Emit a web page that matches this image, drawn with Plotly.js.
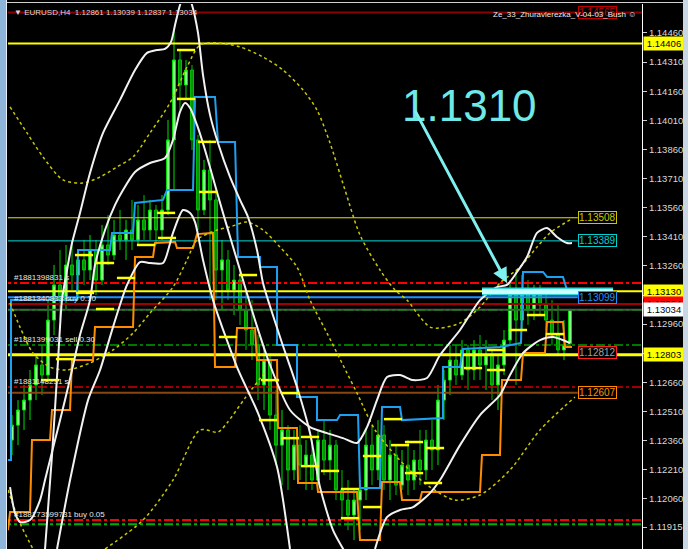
<!DOCTYPE html>
<html><head><meta charset="utf-8">
<script src="https://cdn.plot.ly/plotly-3.0.1.min.js"></script>
<style>
html,body{margin:0;padding:0;background:#000;overflow:hidden;width:688px;height:549px}
#chart{position:absolute;left:0;top:0;width:688px;height:549px}
.fl{position:absolute;left:0;top:0;width:6px;height:549px;background:#8fb4da}
.fl2{position:absolute;left:6px;top:0;width:1px;height:549px;background:#e8eef5}
.fr{position:absolute;left:683px;top:0;width:5px;height:549px;background:#c9d6e3}
.ft{position:absolute;left:7px;top:2px;width:676px;height:1px;background:#d0d0d0}
</style></head><body>
<div id="chart"></div>
<div class="fl"></div><div class="fl2"></div><div class="fr"></div><div class="ft"></div>
<script>
// ---- candles (EURUSD H4) ----
const open = [1.12363,1.12440,1.12518,1.12569,1.12647,1.12750,1.12698,1.12981,1.13162,1.13084,
1.13265,1.13213,1.13291,1.13239,1.13342,1.13187,1.13368,1.13316,1.13419,1.13394,
1.13445,1.13394,1.13497,1.13445,1.13548,1.13445,1.13548,1.13909,1.14321,1.14192,
1.14269,1.13909,1.13548,1.13754,1.13600,1.13239,1.13291,1.13136,1.13187,1.13033,
1.12930,1.12853,1.12647,1.12775,1.12492,1.12337,1.12415,1.12209,1.12337,1.12234,
1.12286,1.12157,1.12363,1.12260,1.12337,1.12106,1.12054,1.11977,1.12054,1.12106,
1.12337,1.12209,1.12389,1.12157,1.12286,1.12131,1.12234,1.12157,1.12260,1.12209,
1.12363,1.12312,1.12569,1.12672,1.12775,1.12698,1.12827,1.12724,1.12827,1.12750,
1.12801,1.12647,1.12750,1.12878,1.13110,1.12981,1.13136,1.13033,1.13110,1.13059,
1.12981,1.12904,1.12827,1.12861];
const high = [1.12492,1.12569,1.12647,1.12724,1.12801,1.12853,1.13084,1.13265,1.13342,1.13368,
1.13394,1.13342,1.13394,1.13419,1.13394,1.13471,1.13522,1.13497,1.13548,1.13497,
1.13600,1.13574,1.13625,1.13600,1.13574,1.13625,1.14012,1.14475,1.14372,1.14321,
1.14295,1.13935,1.13806,1.13909,1.13651,1.13394,1.13342,1.13265,1.13239,1.13136,
1.13084,1.12904,1.12853,1.12801,1.12621,1.12518,1.12440,1.12415,1.12440,1.12363,
1.12363,1.12415,1.12466,1.12415,1.12363,1.12209,1.12157,1.12106,1.12157,1.12415,
1.12440,1.12466,1.12440,1.12363,1.12337,1.12312,1.12363,1.12312,1.12415,1.12415,
1.12466,1.12647,1.12724,1.12853,1.12853,1.12878,1.12853,1.12878,1.12904,1.12878,
1.12827,1.12801,1.12930,1.13187,1.13239,1.13213,1.13187,1.13162,1.13162,1.13136,
1.13084,1.13059,1.12981,1.13039];
const low = [1.12286,1.12337,1.12415,1.12466,1.12569,1.12595,1.12672,1.12904,1.12981,1.13033,
1.13136,1.13084,1.13162,1.13187,1.13110,1.13162,1.13265,1.13291,1.13342,1.13291,
1.13342,1.13368,1.13394,1.13394,1.13368,1.13394,1.13522,1.13651,1.14063,1.14115,
1.13857,1.13445,1.13522,1.13084,1.13084,1.13033,1.13084,1.13007,1.12956,1.12827,
1.12775,1.12569,1.12518,1.12415,1.12234,1.12131,1.12106,1.12157,1.12157,1.12106,
1.12106,1.12131,1.12183,1.12157,1.12054,1.11951,1.11899,1.11848,1.11899,1.12054,
1.12131,1.12157,1.12106,1.12054,1.12080,1.12106,1.12080,1.12106,1.12131,1.12157,
1.12209,1.12234,1.12466,1.12595,1.12647,1.12672,1.12621,1.12672,1.12672,1.12621,
1.12569,1.12518,1.12698,1.12853,1.12647,1.12930,1.12956,1.12981,1.13007,1.12930,
1.12853,1.12801,1.12775,1.12837];
const close = [1.12440,1.12518,1.12569,1.12647,1.12750,1.12698,1.12981,1.13162,1.13084,1.13265,
1.13213,1.13291,1.13239,1.13342,1.13187,1.13368,1.13316,1.13419,1.13394,1.13445,
1.13394,1.13497,1.13445,1.13548,1.13445,1.13548,1.13909,1.14321,1.14192,1.14269,
1.13909,1.13548,1.13754,1.13600,1.13239,1.13291,1.13136,1.13187,1.13033,1.12930,
1.12853,1.12647,1.12775,1.12492,1.12337,1.12415,1.12209,1.12337,1.12234,1.12286,
1.12157,1.12363,1.12260,1.12337,1.12106,1.12054,1.11977,1.12054,1.12106,1.12337,
1.12209,1.12389,1.12157,1.12286,1.12131,1.12234,1.12157,1.12260,1.12209,1.12363,
1.12312,1.12569,1.12672,1.12775,1.12698,1.12827,1.12724,1.12827,1.12750,1.12801,
1.12647,1.12750,1.12878,1.13110,1.12981,1.13136,1.13033,1.13110,1.13059,1.12981,
1.12904,1.12827,1.12853,1.13034];

// ---- white band lines (bar index, price) ----
const bandArchX = [5.5,6.67,7.67,8.33,9.17,10,11.33,13,15.17,18,20.5,22.5,24.17,25.5,26.5,27.17,28,29,30,31,31.83,33,34.33,36.33,38,39.33,40.83,41.83,42.67,45,47.5,49.67,51.33,53.5,55.5];
const bandArchY = [1.11802,1.12286,1.12775,1.13084,1.13239,1.13378,1.13533,1.13739,1.13945,1.14115,1.14269,1.14357,1.14372,1.14378,1.14414,1.14501,1.14604,1.14682,1.14604,1.14460,1.14244,1.14038,1.13893,1.13718,1.13600,1.13512,1.13342,1.13172,1.13084,1.12863,1.12636,1.12399,1.12121,1.11899,1.11786];
const bandBX = [-0.33,0.5,1.33,3,4.67,5.5,7.17,8.83,10,11.33,13,13.83,15.5,17.17,18.5,20.5,23,25.5,26.83,28,28.83,29.67,30.83,32.17,33.83,35.5,38,40.5,43,46.33,49.67,52.5,55.17,57.5,59.17,60.83,62.5,64.67,66.83,69.17,71.33,74.67,78,80.83,82.5,84.17,85.83,87.5,89.17,90.83,92.5,93.33];
const bandBY = [1.12121,1.11987,1.11941,1.11951,1.12054,1.12157,1.12363,1.12569,1.12724,1.12904,1.13084,1.13265,1.13445,1.13574,1.13651,1.13744,1.13790,1.13816,1.13909,1.14053,1.14099,1.14074,1.13986,1.13857,1.13677,1.13497,1.13239,1.12981,1.12750,1.12518,1.12430,1.12399,1.12373,1.12348,1.12430,1.12569,1.12688,1.12698,1.12672,1.12683,1.12801,1.12930,1.13084,1.13151,1.13162,1.13229,1.13306,1.13430,1.13455,1.13409,1.13378,1.13378];
const bandCX = [7.5,9.67,12.67,14.67,16.83,19.17,21.33,23,25.17,26.83,28.5,29.67,30.5,31.83,33.5,37.5,41,44.17,46.33,null,60.5,62.5,64.67,66.83,69.67,71.33,74.67,78,81.33,83,85.17,88,90.17,93];
const bandCY = [1.11802,1.12157,1.12569,1.12724,1.12945,1.13162,1.13280,1.13275,1.13275,1.13430,1.13548,1.13533,1.13486,1.13291,1.13084,1.12739,1.12502,1.12224,1.11802,null,1.11802,1.11966,1.12003,1.12018,1.12090,1.12157,1.12337,1.12492,1.12595,1.12698,1.12811,1.12878,1.12894,1.12863];

// ---- channel step lines ----
const blueX = [-0.67,-0.17,-0.17,10.83,11,16.33,16.67,20.17,20.5,25.17,25.83,30.17,30.5,33.83,34.33,37.17,37.67,41.33,41.33,44.17,44.17,47.5,47.5,50.83,50.83,54.17,54.67,57.67,58,61.33,61.67,64.67,65,71.33,71.83,71.83,74.67,75.17,81.33,84.83,85.17,88.5,89.17,91.83,92.5,93.33];
const blueY = [1.12260,1.12260,1.13084,1.13084,1.13342,1.13342,1.13430,1.13430,1.13584,1.13600,1.13651,1.13651,1.14130,1.14130,1.13898,1.13898,1.13306,1.13306,1.13254,1.13254,1.12853,1.12853,1.12585,1.12585,1.12466,1.12466,1.12492,1.12492,1.12116,1.12116,1.12533,1.12533,1.12466,1.12477,1.12477,1.12739,1.12739,1.12832,1.12842,1.12863,1.13229,1.13229,1.13203,1.13203,1.13136,1.13136];
const orangeX = [-0.67,-0.33,3,3.33,6.33,6.67,9.67,10,13.5,13.83,20.17,20.5,23.5,23.83,27.17,27.5,30.17,30.83,33.5,33.83,37.17,37.5,40.5,40.83,44.17,44.33,47.5,47.67,50.83,51,57.5,58,61.33,61.67,64.67,65,68,68.33,78,78.33,81.33,81.67,84.83,85.17,88.83,89.17,91.83,92.17,93.33];
const orangeY = [1.11899,1.11992,1.11992,1.12363,1.12363,1.12518,1.12518,1.12775,1.12775,1.12945,1.12945,1.13306,1.13306,1.13378,1.13383,1.13352,1.13352,1.13424,1.13430,1.12739,1.12739,1.12940,1.12940,1.12775,1.12775,1.12425,1.12425,1.12142,1.12142,1.12095,1.12095,1.11848,1.11848,1.12147,1.12147,1.12054,1.12054,1.12095,1.12095,1.12286,1.12286,1.12672,1.12672,1.12811,1.12811,1.12971,1.12971,1.12842,1.12842];

// ---- dotted envelopes ----
const dotUpX = [-0.33,2.5,5.17,8.5,11.83,14.67,17.5,20.17,23,26.33,29.17,31.33,34.17,38,41.83,45.17,48.5,50.83,53,55.5,58,61.33,63.83,65.83,68,69.67,71.33,74.67,78,81.33,84.67,87.5,89.67,93];
const dotUpY = [1.14079,1.13945,1.13821,1.13703,1.13687,1.13718,1.13770,1.13821,1.13945,1.14099,1.14285,1.14398,1.14409,1.14388,1.14336,1.14269,1.14166,1.14063,1.13893,1.13651,1.13419,1.13239,1.13136,1.13084,1.12997,1.12945,1.12940,1.12966,1.13048,1.13172,1.13254,1.13357,1.13430,1.13497];
const dotMidX = [-0.33,1.33,3.5,6.33,9.17,13,16.83,20.17,23,26.83,29.17,30.83,34.17,36.33,39.17,41.83,44.67,47.5,49.67,52.5,55.83,57.5,60.5,64.17,66.83,69.67,73.83,78,83,88,93.83];
const dotMidY = [1.13069,1.12945,1.12811,1.12739,1.12724,1.12760,1.12827,1.12914,1.13017,1.13151,1.13291,1.13394,1.13445,1.13461,1.13486,1.13445,1.13357,1.13254,1.13084,1.12914,1.12708,1.12605,1.12415,1.12275,1.12193,1.12121,1.12054,1.12080,1.12209,1.12415,1.12585];
const dotLowX = [-0.67,1.33,3.5,null,15.5,21.83,26.83,31.33,34.33,35.83,38.83,42.17];
const dotLowY = [1.12106,1.11935,1.11802,null,1.11802,1.11951,1.12157,1.12415,1.12404,1.12451,1.12579,1.12713];

// ---- yellow level ticks ----
const markX = [29,29,32.5,32.67,25.67,25.83,22.33,39.33,12,15.5,19,12.17,15.5,8.83,6.33,36,43,42.67,46.33,49.67,49.67,53,46.33,56.33,60,60,63.5,64.67,67,67,70.17,70.5,56.33,80.67,76.83,80.67,84.33,87.33,90.5];
const markY = [1.14372,1.14120,1.13899,1.13641,1.13533,1.13404,1.13368,1.13213,1.13316,1.13275,1.13198,1.13121,1.13038,1.12780,1.12672,1.12894,1.12672,1.12466,1.12373,1.12379,1.12229,1.12204,1.12605,1.12111,1.12281,1.12018,1.12471,1.12337,1.12353,1.12193,1.12142,1.12322,1.11961,1.12827,1.12734,1.12724,1.12930,1.13007,1.12909];

// ---- horizontal levels ----
const levelPrice = [1.14565,1.14406,1.13508,1.13389,1.13172,1.13130,1.13099,1.13064,1.13034,1.13034,1.12853,1.12803,1.12636,1.12607,1.11951,1.11930];
const levelColor = ['#8b0000','#ffff00','#e6e600','#00d8d8','#ff0000','#ffff00','#1e90ff','#a00000','#505050','#009a00','#00a000','#ffff00','#d00000','#8b4513','#ff0000','#00b000'];
const levelWidth = [2,2,1,1,2,2,2,2,2,1.5,1.5,3,1.5,2,2,2];
const levelDash = ['solid','solid','solid','solid','dashdot','solid','solid','solid','solid','dashdot','dashdot','solid','dashdot','solid','dashdot','dashdot'];
const levelToLabel = [false,false,true,true,false,false,true,false,false,false,false,false,false,true,false,false];

// ---- axis ticks ----
const tickVals = [1.14460,1.14310,1.14160,1.14010,1.13860,1.13710,1.13560,1.13410,1.13260,1.13110,1.12960,1.12810,1.12660,1.12510,1.12360,1.12210,1.12060,1.11915];
const tickText = ['1.14460','1.14310','1.14160','1.14010','1.13860','1.13710','1.13560','1.13410','1.13260','1.13110','1.12960','','1.12660','1.12510','1.12360','1.12210','1.12060','1.11915'];

// ---- price tags ----
const axisTagPrice = [1.14406,1.13130,1.13064,1.13034,1.12803];
const axisTagText = ['1.14406','1.13130','1.13064','1.13034','1.12803'];
const axisTagBg = ['#ffff00','#ffff00','#ff0000','#ffffff','#ffff00'];
const chartTagPrice = [1.14565,1.13508,1.13389,1.13099,1.12812,1.12607];
const chartTagText = ['1.14565','1.13508','1.13389','1.13099','1.12812','1.12607'];
const chartTagColor = ['#c00000','#c8c800','#00d0d0','#1e90ff','#a0a0a0','#ff8c00'];
const chartTagBorder = ['#c00000','#c8c800','#00d0d0','#1e90ff','#ff2020','#ff8c00'];

const orderPrice = [1.13172,1.13064,1.12853,1.12636,1.11951];
const orderText = ['#1881398831 s','#1881340833 buy 0.10','#1881399031 sell 0.30','#1881148231 s','#188173599731 buy 0.05'];

const highlightX = [78.33,100.17];
const highlightY = [1.13128,1.13128];
const callout = {text:'1.1310', textX:76.3, textY:1.14084, tailX:66.67, tailY:1.14089, headX:82.5, headY:1.13172};

const XMIN = -0.67, XMAX = 105;
const idx = open.map((_, i) => i);
const traces = [];

levelPrice.forEach((p, k) => {
  traces.push({type:'scatter', mode:'lines', x:[XMIN-1, levelToLabel[k] ? 94.3 : XMAX+1], y:[p,p],
    line:{color:levelColor[k], width:levelWidth[k], dash:levelDash[k]}, hoverinfo:'skip'});
});

traces.push({type:'candlestick', x:idx, open:open, high:high, low:low, close:close,
  increasing:{line:{color:'#00e000', width:1}, fillcolor:'#8cff8c'},
  decreasing:{line:{color:'#00c000', width:1}, fillcolor:'#009000'},
  whiskerwidth:0, hoverinfo:'skip'});

traces.push({type:'scatter', mode:'lines', x:blueX, y:blueY, line:{color:'#1ea0f0', width:2}});
traces.push({type:'scatter', mode:'lines', x:orangeX, y:orangeY, line:{color:'#ff8c00', width:2}});
[[dotUpX,dotUpY],[dotMidX,dotMidY],[dotLowX,dotLowY]].forEach(d => {
  traces.push({type:'scatter', mode:'lines', x:d[0], y:d[1], connectgaps:false,
    line:{color:'#c8c800', width:1.5, dash:'dot', shape:'spline', smoothing:0.8}});
});
[[bandArchX,bandArchY],[bandBX,bandBY],[bandCX,bandCY]].forEach(d => {
  traces.push({type:'scatter', mode:'lines', x:d[0], y:d[1], connectgaps:false,
    line:{color:'#f2f2f2', width:2, shape:'spline', smoothing:0.7}});
});
traces.push({type:'scatter', mode:'markers', x:markX, y:markY,
  marker:{symbol:'line-ew', size:13, line:{color:'#ffff00', width:2.5}}});
traces.push({type:'scatter', mode:'lines', x:highlightX, y:highlightY, line:{color:'#30d8d8', width:8}});
traces.push({type:'scatter', mode:'lines', x:highlightX, y:highlightY, line:{color:'#c8ffff', width:5}});

const ann = [];
const F = 'Liberation Sans, Arial, sans-serif';
chartTagPrice.forEach((p, k) => ann.push({xref:'x', yref:'y', x:94.3, y:p, xanchor:'left', yanchor:'middle',
  text:chartTagText[k], showarrow:false, font:{family:F, size:10, color:chartTagColor[k]},
  bordercolor:chartTagBorder[k], borderwidth:1, borderpad:0, bgcolor:'#000'}));
axisTagPrice.forEach((p, k) => ann.push({xref:'paper', yref:'y', x:1, xshift:1, y:p, xanchor:'left', yanchor:'middle',
  text:axisTagText[k], showarrow:false, font:{family:F, size:9.5, color:'#000'}, width:38,
  bgcolor:axisTagBg[k], borderpad:1}));
orderPrice.forEach((p, k) => ann.push({xref:'paper', yref:'y', x:0.006, y:p, xanchor:'left', yanchor:'bottom',
  text:orderText[k], showarrow:false, font:{family:F, size:8, color:'#e6e6e6'}, yshift:-1}));
ann.push({xref:'paper', yref:'paper', x:0.006, y:0.996, xanchor:'left', yanchor:'top', showarrow:false,
  text:'\u25BC EURUSD,H4  1.12861 1.13039 1.12837 1.13034', font:{family:F, size:8, color:'#d8d8d8'}});
ann.push({xref:'paper', yref:'paper', x:0.993, y:0.993, xanchor:'right', yanchor:'top', showarrow:false,
  text:'Ze_33_Zhuravlerezka_V-04-03_Bush \u263A', font:{family:F, size:8, color:'#e8e8e8'}});
ann.push({xref:'x', yref:'y', x:callout.textX, y:callout.textY, text:callout.text, showarrow:false,
  xanchor:'center', yanchor:'middle', font:{family:F, size:44, color:'#6fe8e8'}});
ann.push({xref:'x', yref:'y', x:callout.headX, y:callout.headY, ax:callout.tailX, ay:callout.tailY,
  axref:'x', ayref:'y', text:' ', showarrow:true, arrowhead:2, arrowsize:1, arrowwidth:3, arrowcolor:'#7ff0f0'});

const layout = {
  width:688, height:549, margin:{l:8, r:46, t:4, b:0},
  paper_bgcolor:'#000', plot_bgcolor:'#000', showlegend:false,
  xaxis:{range:[XMIN, XMAX], visible:false, rangeslider:{visible:false}, fixedrange:true},
  yaxis:{range:[1.11802, 1.14609], side:'right', tickvals:tickVals, ticktext:tickText,
    showgrid:false, zeroline:false, showline:true, linecolor:'#ffffff', linewidth:1,
    ticks:'outside', ticklen:4, tickcolor:'#d0d0d0', tickfont:{family:F, size:9.5, color:'#d8d8d8'}},
  annotations:ann
};
Plotly.newPlot('chart', traces, layout, {staticPlot:true, displayModeBar:false});
</script>
</body></html>
